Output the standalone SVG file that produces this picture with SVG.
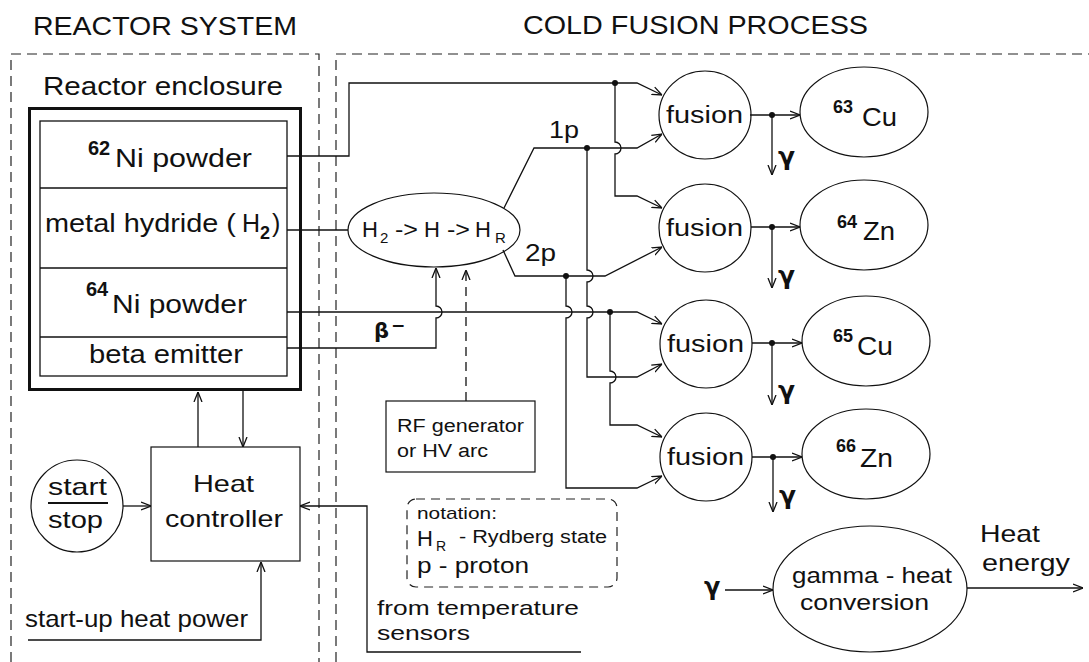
<svg xmlns="http://www.w3.org/2000/svg" width="1089" height="662" viewBox="0 0 1089 662">
<defs>
<style>
.ln{fill:none;stroke:#111;stroke-width:1.3}
.sh{fill:#fff;stroke:#111;stroke-width:1.2}
.dsh{fill:none;stroke:#222;stroke-width:1.2;stroke-dasharray:10 6}
.t{font-family:"Liberation Sans",Arial,sans-serif;fill:#111}
.g{font-family:"DejaVu Sans","Liberation Sans",sans-serif;font-weight:bold;fill:#111}
.b{font-weight:bold}
.dot{fill:#111}
</style>
<marker id="arr" viewBox="0 0 10 10" refX="10" refY="5" markerWidth="10" markerHeight="10" markerUnits="userSpaceOnUse" orient="auto">
<path d="M0,1 L10,5 L0,9" fill="none" stroke="#111" stroke-width="1.3"/>
</marker>
</defs>
<rect width="1089" height="662" fill="#fff"/>

<g id="titles">
<text class="t" x="33" y="35" font-size="25" textLength="264" lengthAdjust="spacingAndGlyphs">REACTOR SYSTEM</text>
<text class="t" x="523" y="34" font-size="26" textLength="345" lengthAdjust="spacingAndGlyphs">COLD FUSION PROCESS</text>
</g>

<g id="reactor-system-box"><path class="dsh" d="M11,662 V54 H319 V662"/></g>
<g id="cold-fusion-box"><path class="dsh" d="M336,662 V54 H1089"/></g>

<g id="reactor-enclosure">
<text class="t" x="43" y="95" font-size="25" textLength="240" lengthAdjust="spacingAndGlyphs">Reactor enclosure</text>
<rect x="29.5" y="108.5" width="271" height="281" fill="none" stroke="#111" stroke-width="3"/>
<rect x="40" y="121" width="247" height="255" fill="none" stroke="#111" stroke-width="1.3"/>
</g>
<g id="ni62">
<line class="ln" x1="40" y1="188" x2="287" y2="188"/>
<text class="t b" x="88" y="155" font-size="20">62</text>
<text class="t" x="115" y="167" font-size="25" textLength="137" lengthAdjust="spacingAndGlyphs">Ni  powder</text>
</g>
<g id="metal-hydride">
<line class="ln" x1="40" y1="268" x2="287" y2="268"/>
<text class="t" x="45" y="232" font-size="25" textLength="191" lengthAdjust="spacingAndGlyphs">metal hydride (</text>
<text class="t" x="242" y="232" font-size="25">H</text>
<text class="t b" x="260" y="239" font-size="18">2</text>
<text class="t" x="272" y="232" font-size="25">)</text>
</g>
<g id="ni64">
<line class="ln" x1="40" y1="337" x2="287" y2="337"/>
<text class="t b" x="86" y="296" font-size="20">64</text>
<text class="t" x="112" y="313" font-size="25" textLength="135" lengthAdjust="spacingAndGlyphs">Ni  powder</text>
</g>
<g id="beta-emitter">
<text class="t" x="89" y="363" font-size="25" textLength="154" lengthAdjust="spacingAndGlyphs">beta emitter</text>
</g>

<g id="heat-controller">
<rect class="sh" x="151" y="447" width="149" height="114"/>
<text class="t" x="193" y="492" font-size="24" textLength="61" lengthAdjust="spacingAndGlyphs">Heat</text>
<text class="t" x="165" y="527" font-size="24" textLength="118" lengthAdjust="spacingAndGlyphs">controller</text>
</g>
<g id="start-stop">
<circle class="sh" cx="77" cy="506" r="46"/>
<text class="t" x="48" y="495" font-size="24" textLength="59" lengthAdjust="spacingAndGlyphs">start</text>
<line x1="48" y1="503" x2="108" y2="503" stroke="#111" stroke-width="2"/>
<text class="t" x="48" y="528" font-size="24" textLength="55" lengthAdjust="spacingAndGlyphs">stop</text>
</g>
<g id="startup-label">
<text class="t" x="25" y="627" font-size="24" textLength="223" lengthAdjust="spacingAndGlyphs">start-up heat power</text>
</g>
<g id="sensors-label">
<text class="t" x="377" y="615" font-size="21" textLength="202" lengthAdjust="spacingAndGlyphs">from temperature</text>
<text class="t" x="377" y="640" font-size="21" textLength="93" lengthAdjust="spacingAndGlyphs">sensors</text>
</g>

<g id="hydrogen-conversion">
<ellipse class="sh" cx="434" cy="230" rx="86" ry="37"/>
<text class="t" x="362" y="237" font-size="22">H</text>
<text class="t" x="380" y="243" font-size="15">2</text>
<text class="t" x="395" y="237" font-size="22" textLength="23" lengthAdjust="spacingAndGlyphs">-&gt;</text>
<text class="t" x="424" y="237" font-size="22">H</text>
<text class="t" x="447" y="237" font-size="22" textLength="23" lengthAdjust="spacingAndGlyphs">-&gt;</text>
<text class="t" x="475" y="237" font-size="22">H</text>
<text class="t" x="495" y="243" font-size="15">R</text>
</g>

<g id="rf-generator">
<rect class="sh" x="386" y="401" width="149" height="71"/>
<text class="t" x="397" y="432" font-size="18" textLength="127" lengthAdjust="spacingAndGlyphs">RF generator</text>
<text class="t" x="397" y="457" font-size="18" textLength="91" lengthAdjust="spacingAndGlyphs">or HV arc</text>
</g>

<g id="notation">
<rect x="407" y="499" width="210" height="88" rx="9" fill="none" stroke="#222" stroke-width="1.2" stroke-dasharray="9 6"/>
<text class="t" x="417" y="519" font-size="17" textLength="80" lengthAdjust="spacingAndGlyphs">notation:</text>
<text class="t" x="417" y="546" font-size="22">H</text>
<text class="t" x="436" y="551" font-size="14">R</text>
<text class="t" x="459" y="543" font-size="18" textLength="148" lengthAdjust="spacingAndGlyphs">- Rydberg state</text>
<text class="t" x="417" y="573" font-size="22" textLength="112" lengthAdjust="spacingAndGlyphs">p - proton</text>
</g>

<g id="fusion1">
<ellipse class="sh" cx="705" cy="115" rx="46" ry="44"/>
<text class="t" x="666" y="123" font-size="23" textLength="77" lengthAdjust="spacingAndGlyphs">fusion</text>
</g>
<g id="fusion2">
<ellipse class="sh" cx="705" cy="228" rx="46" ry="44"/>
<text class="t" x="666" y="236" font-size="23" textLength="77" lengthAdjust="spacingAndGlyphs">fusion</text>
</g>
<g id="fusion3">
<ellipse class="sh" cx="706" cy="344" rx="46" ry="44"/>
<text class="t" x="667" y="352" font-size="23" textLength="77" lengthAdjust="spacingAndGlyphs">fusion</text>
</g>
<g id="fusion4">
<ellipse class="sh" cx="706" cy="457" rx="46" ry="44"/>
<text class="t" x="667" y="465" font-size="23" textLength="77" lengthAdjust="spacingAndGlyphs">fusion</text>
</g>

<g id="cu63">
<ellipse class="sh" cx="864" cy="112" rx="64" ry="45"/>
<text class="t b" x="833" y="113" font-size="18">63</text>
<text class="t" x="862" y="126" font-size="25" textLength="35" lengthAdjust="spacingAndGlyphs">Cu</text>
</g>
<g id="zn64">
<ellipse class="sh" cx="864" cy="225" rx="64" ry="45"/>
<text class="t b" x="837" y="228" font-size="18">64</text>
<text class="t" x="863" y="240" font-size="25" textLength="32" lengthAdjust="spacingAndGlyphs">Zn</text>
</g>
<g id="cu65">
<ellipse class="sh" cx="866" cy="341" rx="64" ry="45"/>
<text class="t b" x="833" y="342" font-size="18">65</text>
<text class="t" x="857" y="355" font-size="25" textLength="36" lengthAdjust="spacingAndGlyphs">Cu</text>
</g>
<g id="zn66">
<ellipse class="sh" cx="866" cy="454" rx="64" ry="45"/>
<text class="t b" x="836" y="452" font-size="18">66</text>
<text class="t" x="860" y="467" font-size="25" textLength="33" lengthAdjust="spacingAndGlyphs">Zn</text>
</g>

<g id="gamma-heat">
<ellipse class="sh" cx="870" cy="589" rx="97" ry="63"/>
<text class="t" x="792" y="583" font-size="22" textLength="160" lengthAdjust="spacingAndGlyphs">gamma - heat</text>
<text class="t" x="800" y="610" font-size="22" textLength="129" lengthAdjust="spacingAndGlyphs">conversion</text>
</g>

<g id="connectors">
<path class="ln" d="M287,156 H349 V83 H637 L662,95" marker-end="url(#arr)"/>
<path class="ln" d="M615,83 V142 A6,6 0 0 1 615,154 V196 H637 L662,208" marker-end="url(#arr)"/>
<path class="ln" d="M287,230 H348"/>
<path class="ln" d="M504,208 L534,148 H637 L662,134" marker-end="url(#arr)"/>
<path class="ln" d="M587,148 V270 A6,6 0 0 1 587,282 V306 A6,6 0 0 1 587,318 V377 H637 L662,364" marker-end="url(#arr)"/>
<path class="ln" d="M503,250 L515,276 H605 L662,247" marker-end="url(#arr)"/>
<path class="ln" d="M566,276 V306 A6,6 0 0 1 566,318 V488 H637 L662,476" marker-end="url(#arr)"/>
<path class="ln" d="M287,312 H637 L662,324" marker-end="url(#arr)"/>
<path class="ln" d="M610,312 V371 A6,6 0 0 1 610,383 V425 H637 L662,437" marker-end="url(#arr)"/>
<path class="ln" d="M287,348 H436 V318 A6,6 0 0 0 436,306 V268" marker-end="url(#arr)"/>
<path class="ln" d="M466,401 V270" stroke-dasharray="9 6" marker-end="url(#arr)"/>
<circle class="dot" cx="615" cy="83" r="3"/>
<circle class="dot" cx="587" cy="148" r="3"/>
<circle class="dot" cx="566" cy="276" r="3"/>
<circle class="dot" cx="610" cy="312" r="3"/>

<path class="ln" d="M750,115 H800" marker-end="url(#arr)"/>
<path class="ln" d="M772,115 V175" marker-end="url(#arr)"/>
<circle class="dot" cx="772" cy="115" r="3"/>
<path class="ln" d="M751,227 H800" marker-end="url(#arr)"/>
<path class="ln" d="M772,227 V288" marker-end="url(#arr)"/>
<circle class="dot" cx="772" cy="227" r="3"/>
<path class="ln" d="M752,343 H802" marker-end="url(#arr)"/>
<path class="ln" d="M772,343 V405" marker-end="url(#arr)"/>
<circle class="dot" cx="772" cy="343" r="3"/>
<path class="ln" d="M752,457 H802" marker-end="url(#arr)"/>
<path class="ln" d="M773,457 V512" marker-end="url(#arr)"/>
<circle class="dot" cx="773" cy="457" r="3"/>

<path class="ln" d="M198,447 V392" marker-end="url(#arr)"/>
<path class="ln" d="M243,391 V447" marker-end="url(#arr)"/>
<path class="ln" d="M123,506 H151" marker-end="url(#arr)"/>
<path class="ln" d="M581,652 H367 V506 H300" marker-end="url(#arr)"/>
<path class="ln" d="M28,640 H261 V562" marker-end="url(#arr)"/>
<path class="ln" d="M725,590 H773" marker-end="url(#arr)"/>
<path class="ln" d="M967,588 H1083" marker-end="url(#arr)"/>

<text class="t" x="549" y="138" font-size="24" textLength="30" lengthAdjust="spacingAndGlyphs">1p</text>
<text class="t" x="525" y="261" font-size="24" textLength="31" lengthAdjust="spacingAndGlyphs">2p</text>
<text class="g" x="374" y="338" font-size="21">β</text>
<text class="g" x="391" y="331" font-size="17">−</text>
<text class="g" x="778" y="165" font-size="25">γ</text>
<text class="g" x="778" y="284" font-size="25">γ</text>
<text class="g" x="778" y="399" font-size="25">γ</text>
<text class="g" x="779" y="504" font-size="25">γ</text>
<text class="g" x="704" y="595" font-size="24">γ</text>
<text class="t" x="980" y="542" font-size="24" textLength="60" lengthAdjust="spacingAndGlyphs">Heat</text>
<text class="t" x="982" y="571" font-size="24" textLength="88" lengthAdjust="spacingAndGlyphs">energy</text>
</g>
</svg>
